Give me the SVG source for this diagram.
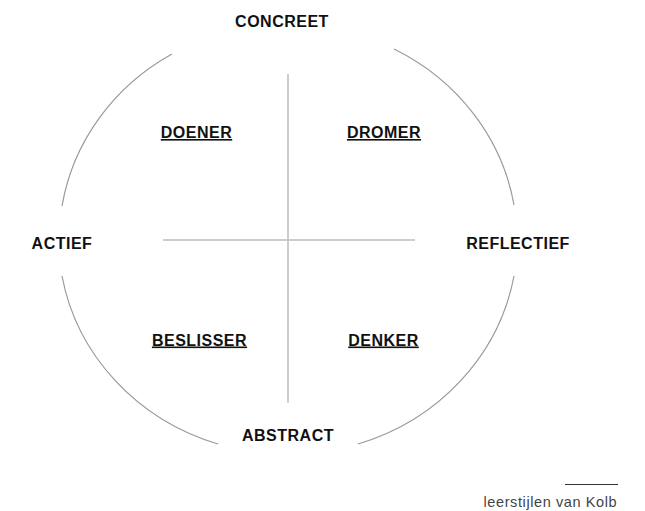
<svg xmlns="http://www.w3.org/2000/svg" width="645" height="511" viewBox="0 0 645 511">
<style>
.arc{fill:none;stroke:#9a9a9a;stroke-width:1.2}
.axis{fill:none;stroke:#bdbdbd;stroke-width:1.5}
.pole{font-family:"Liberation Sans",Arial,sans-serif;font-weight:bold;font-size:16px;fill:#111;letter-spacing:0.5px;text-anchor:middle}
.type{font-family:"Liberation Sans",Arial,sans-serif;font-weight:bold;font-size:16px;fill:#111;letter-spacing:0.5px;text-anchor:middle;text-decoration:underline}
.cap{font-family:"Liberation Sans",Arial,sans-serif;font-size:14.5px;fill:#444;letter-spacing:0.6px}
</style>
<rect width="645" height="511" fill="#fff"/>
<g id="connectors">
<path class="arc" d="M172 54 A228 216 0 0 0 62 206"/>
<path class="arc" d="M394 49 A228 216 0 0 1 514 205"/>
<path class="arc" d="M62 276 A228 216 0 0 0 218 444"/>
<path class="arc" d="M514 276 A228 216 0 0 1 358 444"/>
<line class="axis" x1="288" y1="74" x2="288" y2="403"/>
<line class="axis" x1="163" y1="240" x2="415" y2="240"/>
</g>
<g id="concreet"><text class="pole" x="282" y="27">CONCREET</text></g>
<g id="actief"><text class="pole" x="62" y="249">ACTIEF</text></g>
<g id="reflectief"><text class="pole" x="518" y="249">REFLECTIEF</text></g>
<g id="abstract"><text class="pole" x="288" y="441">ABSTRACT</text></g>
<g id="doener"><text class="type" x="196.5" y="138">DOENER</text></g>
<g id="dromer"><text class="type" x="384" y="138">DROMER</text></g>
<g id="beslisser"><text class="type" x="199.5" y="345.5">BESLISSER</text></g>
<g id="denker"><text class="type" x="383.5" y="345.5">DENKER</text></g>
<g id="caption">
<line x1="565" y1="484.5" x2="618" y2="484.5" stroke="#333" stroke-width="1"/>
<text class="cap" x="483.5" y="506.5">leerstijlen van Kolb</text>
</g>
</svg>
